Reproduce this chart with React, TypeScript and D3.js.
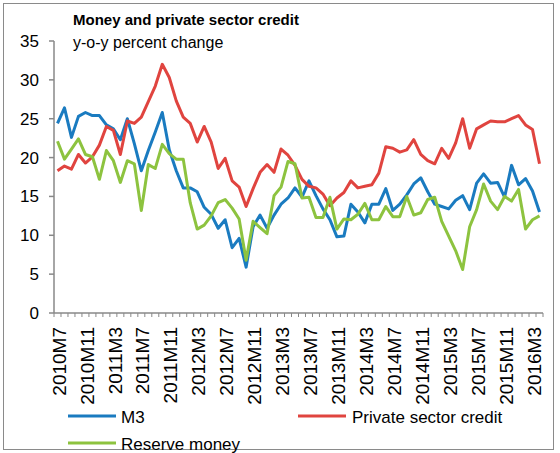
import React from "react";
import * as d3 from "d3";

const months: string[] = (() => {
  const out: string[] = [];
  let y = 2010, m = 7;
  for (let i = 0; i < 70; i++) {
    out.push(`${y}M${m}`);
    m++;
    if (m > 12) { m = 1; y++; }
  }
  return out;
})();

const m3 = [24.4, 26.4, 22.6, 25.3, 25.8, 25.4, 25.4, 24.2, 23.7, 22.3, 25.0, 21.8, 18.3, 20.9, 23.3, 25.8, 21.0, 18.3, 16.1, 16.1, 15.6, 13.6, 12.7, 10.9, 12.0, 8.4, 9.6, 5.9, 11.1, 12.6, 10.9, 12.6, 14.0, 14.8, 16.1, 14.9, 17.0, 15.1, 13.4, 12.0, 9.8, 9.9, 14.0, 13.0, 11.6, 14.0, 14.0, 16.0, 13.2, 14.0, 15.2, 16.6, 17.4, 15.6, 14.0, 13.7, 13.4, 14.5, 15.1, 13.3, 16.7, 17.9, 16.7, 16.8, 14.9, 19.0, 16.5, 17.3, 15.7, 13.0];

const credit = [18.3, 18.9, 18.5, 20.4, 19.3, 20.1, 21.6, 24.0, 23.5, 20.4, 24.7, 24.4, 25.2, 27.2, 29.2, 32.0, 30.3, 27.3, 25.2, 24.4, 22.0, 24.0, 22.0, 18.6, 19.9, 17.0, 16.2, 13.7, 16.0, 18.1, 19.1, 18.1, 21.1, 20.3, 19.0, 17.2, 16.3, 16.1, 15.3, 13.8, 14.8, 15.5, 17.0, 16.1, 16.3, 16.5, 18.0, 21.4, 21.2, 20.7, 21.0, 22.3, 20.4, 19.6, 19.2, 21.2, 19.9, 21.9, 25.0, 21.2, 23.7, 24.2, 24.7, 24.6, 24.6, 25.0, 25.4, 24.2, 23.6, 19.2];

const reserve = [22.1, 19.8, 21.1, 22.4, 20.4, 20.1, 17.2, 20.9, 19.6, 16.8, 19.6, 19.2, 13.2, 19.1, 18.6, 21.7, 20.5, 19.8, 19.8, 14.2, 10.8, 11.3, 12.5, 14.2, 14.6, 13.5, 12.1, 6.8, 11.8, 11.0, 10.2, 15.1, 16.2, 19.5, 19.2, 14.8, 14.9, 12.3, 12.3, 14.9, 10.8, 12.1, 12.0, 12.7, 14.1, 12.0, 12.0, 13.7, 12.4, 12.4, 15.0, 12.6, 12.9, 14.6, 14.9, 11.8, 9.9, 8.0, 5.6, 11.1, 13.3, 16.6, 14.4, 13.3, 15.0, 14.4, 15.9, 10.8, 12.0, 12.5];

const yTicks = [0, 5, 10, 15, 20, 25, 30, 35];

const series = [
  { name: "M3", values: m3, color: "#1a7bc0" },
  { name: "Private sector credit", values: credit, color: "#e0443f" },
  { name: "Reserve money", values: reserve, color: "#8dc33f" },
];

const FONT = "'Liberation Sans', Arial, sans-serif";

export default function App() {
  const left = 54, right = 543, top = 41, bottom = 313;
  const x = d3.scaleBand<string>().domain(months).range([left, right]).paddingInner(0).paddingOuter(0);
  const y = d3.scaleLinear().domain([0, 35]).range([bottom, top]);
  const line = (vals: number[]) =>
    d3.line<number>()
      .x((_, i) => (x(months[i]) as number) + x.bandwidth() / 2)
      .y((v) => y(v))(vals) as string;
  const axisColor = "#888888";

  return (
    <svg width={560} height={453} style={{ position: "absolute", left: 0, top: 0 }} fontFamily={FONT}>
      <rect x={0} y={0} width={560} height={453} fill="#fff" />
      <rect x={3.5} y={3.5} width={550} height={446} fill="none" stroke="#8a8a8a" strokeWidth={1} />
      <text x={73} y={25} fontSize={15} fontWeight="bold" fill="#000">Money and private sector credit</text>
      <text x={73} y={48} fontSize={16} fill="#000">y-o-y percent change</text>

      {/* y axis */}
      <line x1={left} x2={left} y1={top} y2={bottom} stroke={axisColor} strokeWidth={1.5} />
      {yTicks.map((t) => (
        <g key={t}>
          <line x1={left - 5} x2={left} y1={y(t)} y2={y(t)} stroke={axisColor} strokeWidth={1.5} />
          <text x={39} y={y(t)} dy="0.35em" textAnchor="end" fontSize={17} fill="#000">{t}</text>
        </g>
      ))}

      {/* x axis */}
      <line x1={left} x2={right} y1={bottom} y2={bottom} stroke={axisColor} strokeWidth={1.5} />
      {months.map((m) => (
        <line key={m} x1={(x(m) as number)} x2={(x(m) as number)} y1={bottom} y2={bottom + 4} stroke={axisColor} strokeWidth={1} />
      ))}
      <line x1={right} x2={right} y1={bottom} y2={bottom + 4} stroke={axisColor} strokeWidth={1} />
      {months.map((m, i) =>
        i % 4 === 0 ? (
          <text
            key={"l" + m}
            transform={`translate(${(x(m) as number) + x.bandwidth() / 2 + 1.5},${bottom + 14}) rotate(-90)`}
            textAnchor="end"
            dy="0.35em"
            fontSize={19}
            fill="#000"
          >
            {m}
          </text>
        ) : null
      )}

      {series.map((s) => (
        <path key={s.name} d={line(s.values)} fill="none" stroke={s.color} strokeWidth={3} strokeLinejoin="round" />
      ))}

      {/* legend */}
      <line x1={68} x2={116} y1={416} y2={416} stroke={series[0].color} strokeWidth={3} />
      <text x={121} y={417} dy="0.35em" fontSize={17} fill="#000">M3</text>
      <line x1={298} x2={346} y1={416} y2={416} stroke={series[1].color} strokeWidth={3} />
      <text x={352} y={417} dy="0.35em" fontSize={17} fill="#000">Private sector credit</text>
      <line x1={68} x2={116} y1={443} y2={443} stroke={series[2].color} strokeWidth={3} />
      <text x={121} y={444} dy="0.35em" fontSize={17} fill="#000">Reserve money</text>
    </svg>
  );
}
